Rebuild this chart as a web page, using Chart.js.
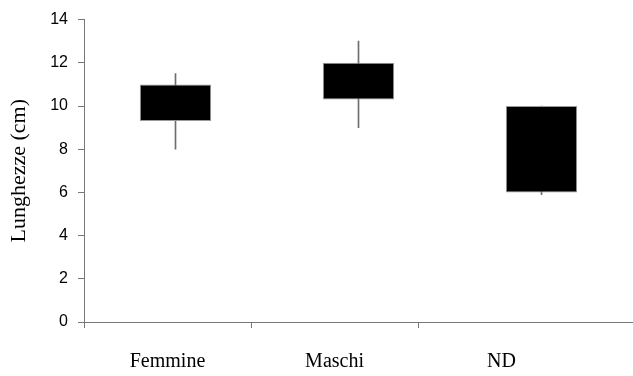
<!DOCTYPE html>
<html>
<head>
<meta charset="utf-8">
<script src="https://cdn.jsdelivr.net/npm/chart.js@4"></script>
<style>
  html, body { margin: 0; padding: 0; background: #fff; }
  #wrap { width: 633px; height: 376px; }
</style>
</head>
<body>
<div id="wrap"><canvas id="myChart"></canvas></div>
<script>
// data
const categories = ["Femmine", "Maschi", "ND"];
const boxLow = [9.3, 10.3, 6];
const boxHigh = [11, 12, 10];
const whiskerLow = [8, 9, 5.9];
const whiskerHigh = [11.5, 13, 10];
const yTicks = [0, 2, 4, 6, 8, 10, 12, 14];

const AXIS = "#777";

const boxes = categories.map((c, i) => [boxLow[i], boxHigh[i]]);
const whiskers = categories.map((c, i) => [whiskerLow[i], whiskerHigh[i]]);

const ctx = document.getElementById("myChart");

new Chart(ctx, {
  type: "bar",
  data: {
    labels: categories,
    datasets: [
      {
        label: "box",
        data: boxes,
        xAxisID: "xb",
        grouped: false,
        backgroundColor: "#000",
        borderColor: "#999",
        borderWidth: 1,
        borderSkipped: false,
        categoryPercentage: 1,
        barPercentage: 0.39,
        order: 1
      },
      {
        label: "whisker",
        data: whiskers,
        xAxisID: "xb",
        grouped: false,
        backgroundColor: "#6e6e6e",
        borderWidth: 0,
        barThickness: 1,
        order: 2
      }
    ]
  },
  options: {
    responsive: true,
    maintainAspectRatio: false,
    animation: false,
    layout: { padding: { top: 18, right: 0, left: 0, bottom: 0 } },
    plugins: { legend: { display: false }, tooltip: { enabled: false } },
    scales: {
      xb: {
        type: "category",
        display: false,
        offset: true
      },
      x: {
        type: "linear",
        position: "bottom",
        offset: false,
        min: 0,
        max: 3.287,
        afterBuildTicks: axis => {
          axis.ticks = [0, 0.5, 1, 1.5, 2, 2.5].map(v => ({ value: v }));
        },
        afterFit: axis => { axis.height = 54; },
        border: { display: true, color: AXIS, width: 1 },
        grid: {
          offset: false,
          drawOnChartArea: false,
          drawTicks: true,
          tickLength: 6,
          tickColor: c => Number.isInteger(c.tick && c.tick.value) ? AXIS : "rgba(0,0,0,0)"
        },
        ticks: {
          autoSkip: false,
          maxRotation: 0,
          padding: 22,
          color: "#000",
          font: { family: "Liberation Serif", size: 20 },
          callback: v => {
            const i = Math.floor(v);
            return v % 1 !== 0 && categories[i] ? categories[i] : "";
          }
        }
      },
      y: {
        min: 0,
        max: 14,
        afterBuildTicks: axis => {
          axis.ticks = yTicks.map(v => ({ value: v }));
        },
        afterFit: axis => { axis.width = 84; },
        border: { display: true, color: AXIS, width: 1 },
        grid: { drawOnChartArea: false, drawTicks: true, tickLength: 6, tickColor: AXIS },
        ticks: {
          color: "#000",
          padding: 10,
          font: { family: "Liberation Sans", size: 16 }
        },
        title: {
          display: true,
          text: "Lunghezze (cm)",
          color: "#000",
          padding: { top: 6, bottom: 0 },
          font: { family: "Liberation Serif", size: 22 }
        }
      }
    }
  }
});
</script>
</body>
</html>
